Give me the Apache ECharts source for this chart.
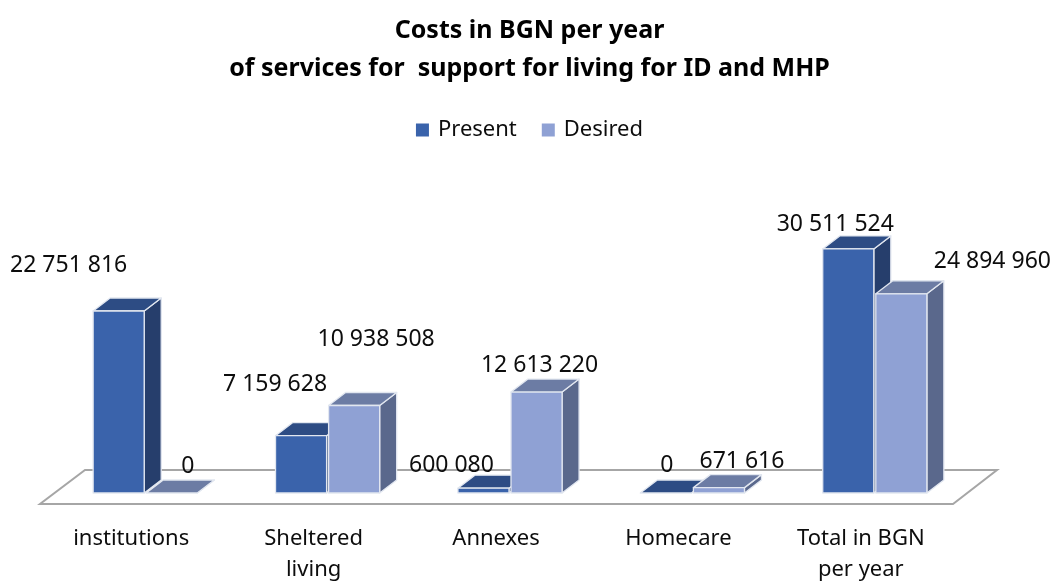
<html>
<head>
    <meta charset="utf-8">
    <script src="https://cdn.jsdelivr.net/npm/echarts@6/dist/echarts.min.js"></script>
</head>
<body>
    <style>
        html, body { width: 100%; height: 100%; margin: 0; background: #fff; }
    </style>
    <div id="main" style="width: 1059px;height:585px;"></div>
    <script>
        var categories = ['institutions', 'Sheltered\nliving', 'Annexes', 'Homecare', 'Total in BGN\nper year'];
        var present = [22751816, 7159628, 600080, 0, 30511524];
        var desired = [0, 10938508, 12613220, 671616, 24894960];

        // labels were dragged around by hand in the original, so nudge them (px from top-front centre)
        var presentNudge = [[-50, -46], [-26, -51], [-32, -23], [1, -28], [-13, -24]];
        var desiredNudge = [[16, -27], [22, -66], [3, -27], [23, -26], [91, -32]];

        var DX = 17, DY = -13;
        var FONT = '"Noto Sans", "DejaVu Sans", sans-serif';

        function fmt(v) {
            return String(v).replace(/\B(?=(\d{3})+(?!\d))/g, ' ');
        }

        function barRenderer(side, faces, nudge) {
            return function (params, api) {
                var i = api.value(0), v = api.value(1);
                var w = api.size([1, 0])[0] * 0.28;
                var base = api.coord([i, 0]);
                var top = api.coord([i, v]);
                var x0 = side < 0 ? base[0] - w - 1 : base[0] + 1;
                var x1 = x0 + w, yb = base[1], yt = top[1];
                var edge = { stroke: '#e2e7f0', lineWidth: 1.3, lineJoin: 'round' };
                var kids = [
                    {
                        type: 'polygon',
                        shape: { points: [[x1, yt], [x1 + DX, yt + DY], [x1 + DX, yb + DY], [x1, yb]] },
                        style: Object.assign({ fill: faces.side }, edge)
                    },
                    {
                        type: 'polygon',
                        shape: { points: [[x0, yt], [x1, yt], [x1 + DX, yt + DY], [x0 + DX, yt + DY]] },
                        style: Object.assign({ fill: faces.top }, edge)
                    }
                ];
                if (yb - yt > 0.5) {
                    kids.push({
                        type: 'rect',
                        shape: { x: x0, y: yt, width: w, height: yb - yt },
                        style: Object.assign({ fill: faces.front }, edge)
                    });
                }
                var n = nudge[params.dataIndex];
                kids.push({
                    type: 'text',
                    z2: 100,
                    style: {
                        text: fmt(v),
                        x: (x0 + x1) / 2 + n[0],
                        y: yt + n[1],
                        align: 'center',
                        verticalAlign: 'middle',
                        fontSize: 23,
                        fontFamily: FONT,
                        fill: '#0d0d0d'
                    }
                });
                return { type: 'group', children: kids };
            };
        }

        var presentFaces = { front: '#3a63ab', top: '#2d4c84', side: '#263e6c' };
        var desiredFaces = { front: '#8fa1d4', top: '#6c7ca4', side: '#5a688c' };

        var chart = echarts.init(document.getElementById('main'));
        var option = {
            animation: false,
            backgroundColor: '#fff',
            title: {
                text: 'Costs in BGN per year\nof services for  support for living for ID and MHP',
                left: 'center',
                top: 7,
                textStyle: {
                    fontFamily: FONT,
                    fontSize: 25,
                    fontWeight: 'bold',
                    lineHeight: 38,
                    color: '#000'
                }
            },
            legend: {
                data: ['Present', 'Desired'],
                icon: 'rect',
                top: 114,
                left: 'center',
                itemWidth: 13,
                itemHeight: 13,
                itemGap: 25,
                textStyle: {
                    fontFamily: FONT,
                    fontSize: 22,
                    color: '#0d0d0d',
                    padding: [0, 0, 0, 4]
                }
            },
            grid: { left: 54, right: 93, top: 173, bottom: 89 },
            xAxis: {
                type: 'category',
                data: categories,
                axisLine: { show: false },
                axisTick: { show: false },
                splitLine: { show: false },
                axisLabel: {
                    interval: 0,
                    fontFamily: FONT,
                    fontSize: 22,
                    color: '#0d0d0d',
                    lineHeight: 31,
                    margin: 30,
                    padding: [0, 28, 0, 0]
                }
            },
            yAxis: {
                type: 'value',
                min: 0,
                max: 40000000,
                show: false
            },
            series: [
                {
                    type: 'custom',
                    silent: true,
                    data: [[0, 0]],
                    renderItem: function (params, api) {
                        var cs = params.coordSys;
                        var yb = api.coord([0, 0])[1];
                        var L = cs.x, R = cs.x + cs.width;
                        return {
                            type: 'polygon',
                            shape: { points: [[L - 14, yb + 11], [R - 13, yb + 11], [R + 31, yb - 23], [L + 31, yb - 23]] },
                            style: { fill: '#fff', stroke: '#a6a6a6', lineWidth: 2 }
                        };
                    }
                },
                {
                    name: 'Present',
                    type: 'custom',
                    itemStyle: { color: presentFaces.front },
                    encode: { x: 0, y: 1 },
                    data: present.map(function (v, i) { return [i, v]; }),
                    renderItem: barRenderer(-1, presentFaces, presentNudge)
                },
                {
                    name: 'Desired',
                    type: 'custom',
                    itemStyle: { color: desiredFaces.front },
                    encode: { x: 0, y: 1 },
                    data: desired.map(function (v, i) { return [i, v]; }),
                    renderItem: barRenderer(1, desiredFaces, desiredNudge)
                }
            ]
        };
        chart.setOption(option);
    </script>
</body>
</html>
